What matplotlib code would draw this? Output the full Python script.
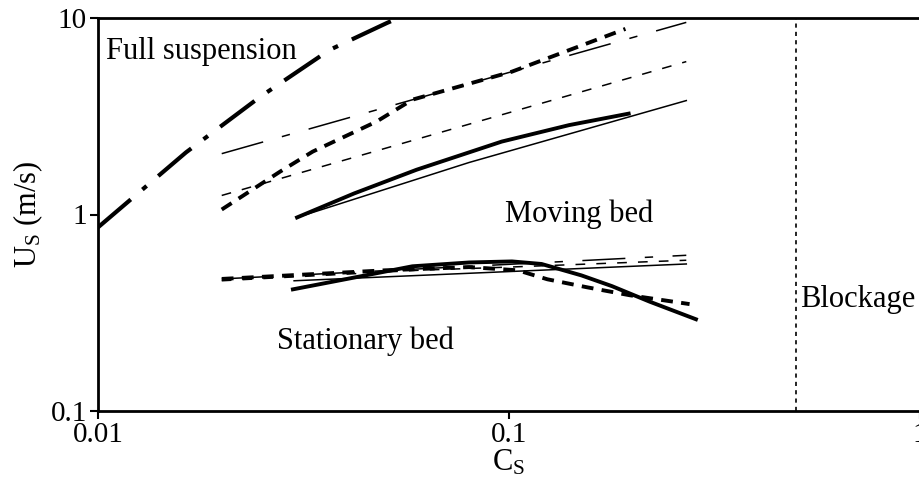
import matplotlib
matplotlib.use("Agg")
import matplotlib.pyplot as plt

plt.rcParams["font.family"] = ["Liberation Serif", "DejaVu Serif"]
plt.rcParams["mathtext.fontset"] = "custom"
plt.rcParams["mathtext.rm"] = "Liberation Serif"
plt.rcParams["mathtext.it"] = "Liberation Serif"
plt.rcParams["lines.scale_dashes"] = False

# Full suspension limit
fs_x = [0.01, 0.01637, 0.0248, 0.0366, 0.0505, 0.055]
fs_y = [0.86, 2.07, 3.97, 6.88, 9.44, 10.2]

# Moving bed / full suspension boundaries
up_longdash_x = [0.02, 0.27]
up_longdash_y = [2.04, 9.5]
up_thickdash_x = [0.02, 0.0277, 0.0333, 0.0476, 0.0582, 0.1016, 0.192]
up_thickdash_y = [1.06, 1.65, 2.09, 2.97, 3.84, 5.33, 8.8]
up_thindash_x = [0.02, 0.27]
up_thindash_y = [1.25, 6.0]
up_thick_x = [0.0305, 0.042, 0.0596, 0.096, 0.14, 0.1955]
up_thick_y = [0.966, 1.28, 1.69, 2.35, 2.85, 3.26]
up_thin_x = [0.0305, 0.080, 0.27]
up_thin_y = [0.966, 1.84, 3.8]

# Stationary bed / moving bed boundaries
lo_longdash_x = [0.02, 0.27]
lo_longdash_y = [0.47, 0.62]
lo_thin_x = [0.03, 0.27]
lo_thin_y = [0.46, 0.56]
lo_thickdash_x = [0.02, 0.05, 0.08, 0.105, 0.124, 0.155, 0.197, 0.275]
lo_thickdash_y = [0.47, 0.52, 0.54, 0.52, 0.468, 0.426, 0.388, 0.35]
lo_thindash_x = [0.02, 0.06, 0.1, 0.27]
lo_thindash_y = [0.46, 0.52, 0.54, 0.585]
lo_thick_x = [0.0298, 0.0434, 0.0582, 0.08, 0.1017, 0.12, 0.15, 0.178, 0.22, 0.285]
lo_thick_y = [0.416, 0.484, 0.545, 0.57, 0.577, 0.56, 0.49, 0.432, 0.36, 0.293]

blockage_cs = 0.5

fig = plt.figure(figsize=(9.2, 4.82), dpi=100)
ax = fig.add_axes([98 / 920, 1 - 411 / 482, 1 - 98 / 920, (411 - 18) / 482])
ax.set_xscale("log")
ax.set_yscale("log")
ax.set_xlim(0.01, 1)
ax.set_ylim(0.1, 10)

ax.plot(fs_x, fs_y, color="black", lw=3, dashes=(31, 11, 4, 11))

ax.plot(up_longdash_x, up_longdash_y, color="black", lw=1.1, dashes=(31, 14, 6, 14))
ax.plot(up_thickdash_x, up_thickdash_y, color="black", lw=2.8, dashes=(8.5, 6))
ax.plot(up_thindash_x, up_thindash_y, color="black", lw=1.1, dashes=(7, 8))
ax.plot(up_thick_x, up_thick_y, color="black", lw=2.8)
ax.plot(up_thin_x, up_thin_y, color="black", lw=1.1)

ax.plot(lo_longdash_x, lo_longdash_y, color="black", lw=1.1, dashes=(31, 14, 6, 14))
ax.plot(lo_thin_x, lo_thin_y, color="black", lw=1.1)
ax.plot(lo_thickdash_x, lo_thickdash_y, color="black", lw=2.8, dashes=(8.5, 6))
ax.plot(lo_thindash_x, lo_thindash_y, color="black", lw=1.1, dashes=(7, 8))
ax.plot(lo_thick_x, lo_thick_y, color="black", lw=2.8)

ax.axvline(blockage_cs, color="black", lw=1.2, dashes=(3, 3))

ax.text(0.01046, 6.2, "Full suspension", fontsize=22, ha="left", va="baseline")
ax.text(0.0978, 0.92, "Moving bed", fontsize=22, ha="left", va="baseline")
ax.text(0.0273, 0.2065, "Stationary bed", fontsize=22, ha="left", va="baseline")
ax.text(0.51, 0.337, "Blockage", fontsize=22, ha="left", va="baseline")

ax.set_xticks([0.01, 0.1, 1])
ax.set_xticklabels(["0.01", "0.1", "1"])
ax.set_yticks([0.1, 1, 10])
ax.set_yticklabels(["0.1", "1", "10"])
ax.minorticks_off()
ax.tick_params(direction="out", length=6, width=1.5, labelsize=21, pad=2)
for s in ax.spines.values():
    s.set_linewidth(2)

ax.set_xlabel(r"C$_\mathrm{S}$", fontsize=22, labelpad=0)
ax.set_ylabel(r"U$_\mathrm{S}$ (m/s)", fontsize=22, labelpad=4)

fig.savefig("out.png", dpi=100)
